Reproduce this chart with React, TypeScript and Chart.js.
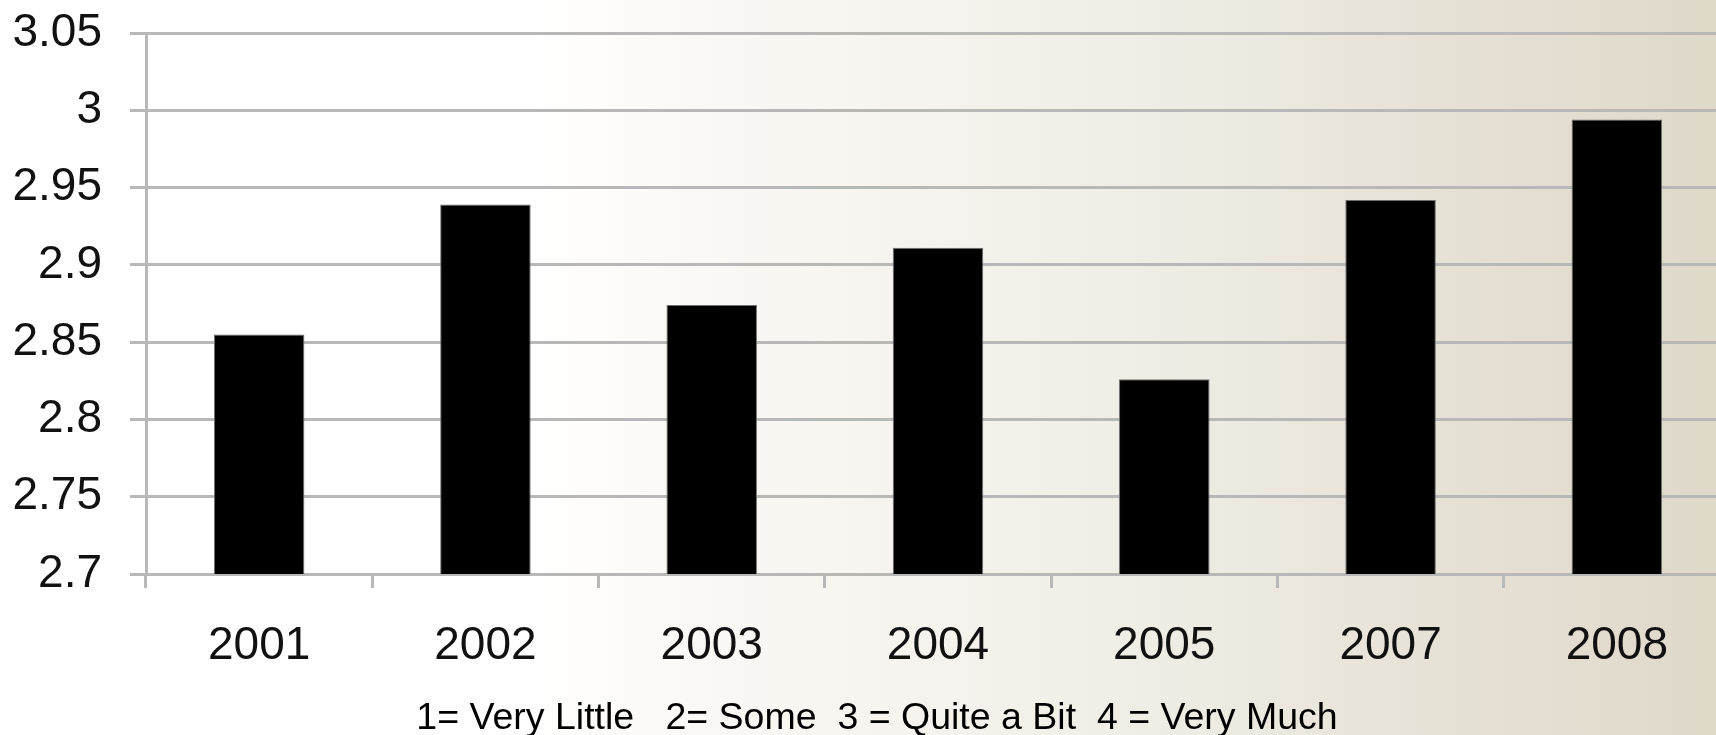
import React, { useEffect, useRef } from "react";
import { Chart, registerables } from "chart.js";

Chart.register(...registerables);

const categories: string[] = ["2001", "2002", "2003", "2004", "2005", "2007", "2008"];
const meanScores: number[] = [2.855, 2.939, 2.874, 2.911, 2.826, 2.942, 2.994];
const yMin = 2.7;
const yMax = 3.05;
const yStep = 0.05;
const footnote = "1= Very Little   2= Some  3 = Quite a Bit  4 = Very Much";

export default function App() {
  const canvasRef = useRef<HTMLCanvasElement | null>(null);

  useEffect(() => {
    document.body.style.margin = "0";
    const canvas = canvasRef.current;
    if (!canvas) return;
    const chart = new Chart(canvas, {
      type: "bar",
      data: {
        labels: categories,
        datasets: [
          {
            data: meanScores,
            backgroundColor: "#000000",
            borderColor: "#707070",
            borderWidth: 1,
            barPercentage: 0.4,
            categoryPercentage: 1,
          },
        ],
      },
      options: {
        responsive: false,
        animation: false,
        layout: { padding: { top: 33, left: 0, right: 0, bottom: 0 } },
        plugins: {
          legend: { display: false },
          tooltip: { enabled: false },
          title: { display: false },
        },
        scales: {
          x: {
            grid: {
              display: true,
              drawOnChartArea: false,
              drawTicks: true,
              tickLength: 14,
              color: "#b8b8b8",
              lineWidth: 3,
            },
            border: { display: true, color: "#b8b8b8", width: 3 },
            ticks: {
              color: "#111111",
              font: { family: "'Liberation Sans', Arial, sans-serif", size: 46 },
              padding: 31,
              maxRotation: 0,
              autoSkip: false,
            },
            afterFit: (scale: any) => {
              scale.height = 161;
              scale.paddingLeft = 0;
              scale.paddingRight = 0;
            },
          },
          y: {
            min: yMin,
            max: yMax,
            grid: {
              color: "#b8b8b8",
              lineWidth: 3,
              drawTicks: true,
              tickLength: 16,
            },
            border: { display: true, color: "#b8b8b8", width: 3 },
            ticks: {
              stepSize: yStep,
              color: "#111111",
              font: { family: "'Liberation Sans', Arial, sans-serif", size: 46 },
              padding: 28,
              callback: (value: any) => String(Number(Number(value).toFixed(2))),
            },
            afterFit: (scale: any) => {
              scale.width = 146;
              scale.paddingTop = 0;
              scale.paddingBottom = 0;
            },
          },
        },
      },
    });
    return () => chart.destroy();
  }, []);

  return (
    <div
      style={{
        position: "fixed",
        left: 0,
        top: 0,
        width: 1716,
        height: 735,
        overflow: "hidden",
        background:
          "linear-gradient(90deg, #ffffff 0%, #ffffff 31%, #fbf9f5 40%, #f6f3ee 55%, #eeebe3 70%, #e6e1d5 85%, #dfd9ca 100%)",
      }}
    >
      <canvas ref={canvasRef} width={1730} height={735} style={{ position: "absolute", left: 0, top: 0 }} />
      <div
        style={{
          position: "absolute",
          left: 0,
          width: 1754,
          top: 696,
          textAlign: "center",
          fontFamily: "'Liberation Sans', Arial, sans-serif",
          fontSize: 37.5,
          color: "#000",
          whiteSpace: "pre",
          lineHeight: "40px",
        }}
      >
        {footnote}
      </div>
    </div>
  );
}
